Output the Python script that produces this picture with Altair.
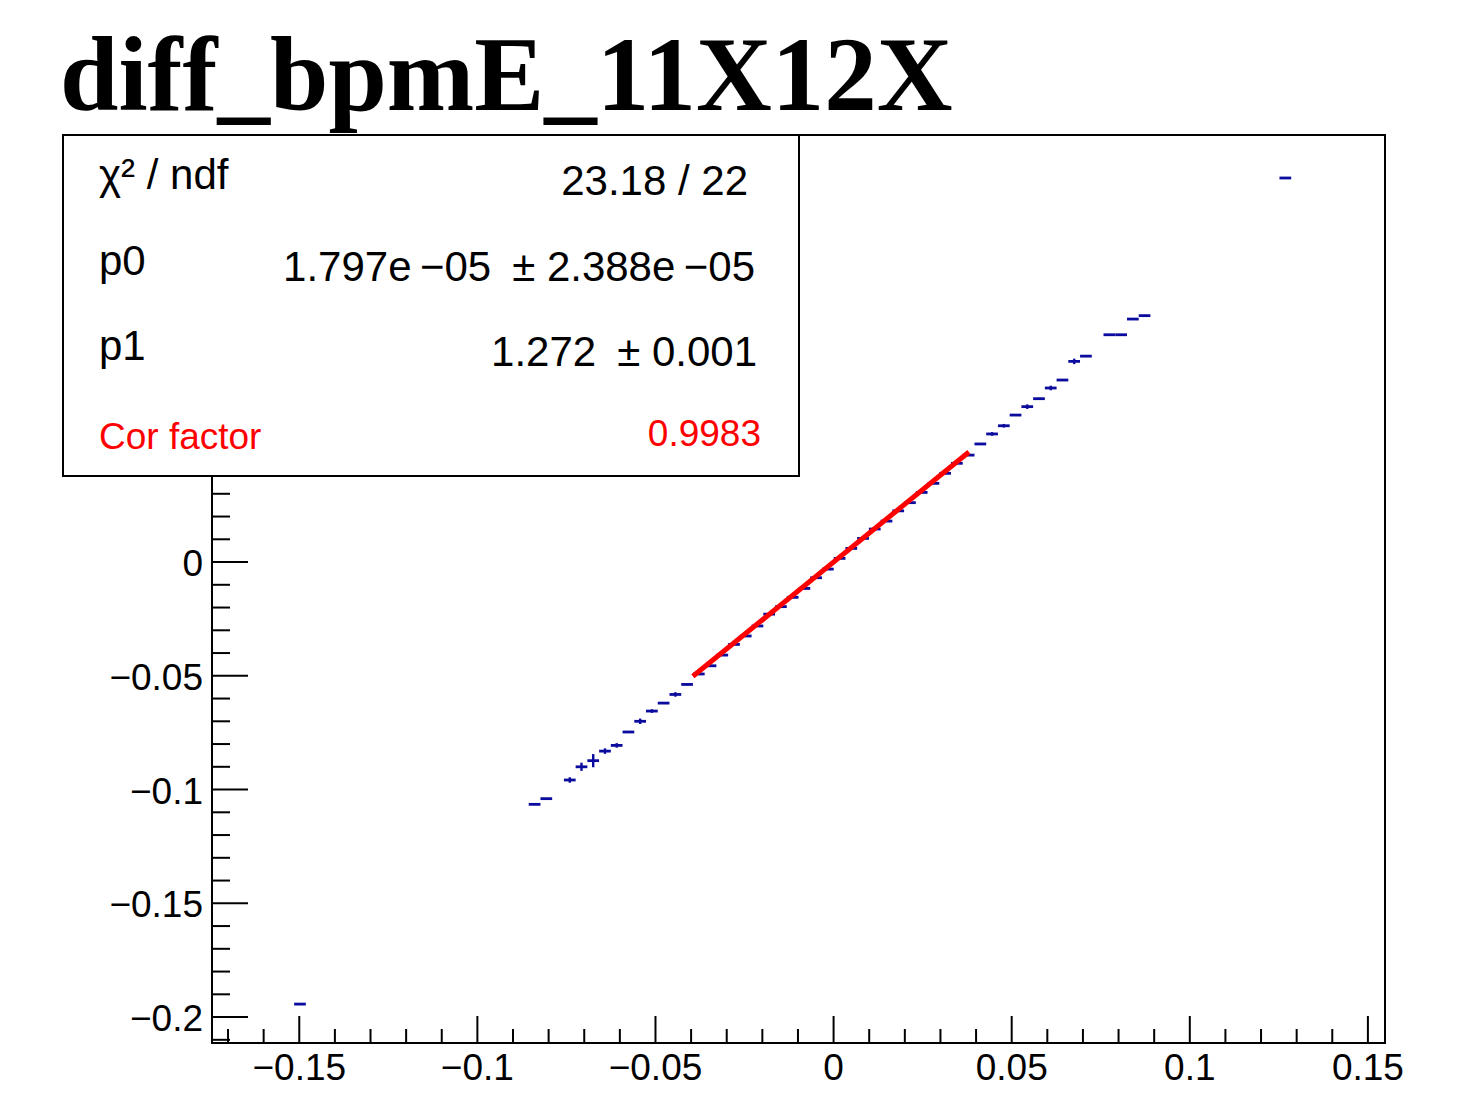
import altair as alt
import pandas as pd

# ---------------- data ----------------
title_text = "diff_bpmE_11X12X"

bin_x = [-0.14980, -0.08394, -0.08065, -0.07406, -0.07077, -0.06748, -0.06418,
         -0.06089, -0.05760, -0.05430, -0.05101, -0.04772, -0.04442, -0.04113,
         -0.03784, -0.03455, -0.03125, -0.02796, -0.02467, -0.02137, -0.01808,
         -0.01479, -0.01149, -0.00820, -0.00491, -0.00161, 0.00168, 0.00497,
         0.00827, 0.01156, 0.01485, 0.01815, 0.02144, 0.02473, 0.02803, 0.03132,
         0.03461, 0.03791, 0.04120, 0.04449, 0.04779, 0.05108, 0.05437, 0.05766,
         0.06096, 0.06425, 0.06754, 0.07084, 0.07742, 0.08072, 0.08401, 0.08730,
         0.12682]
bin_y = [-0.1943, -0.1065, -0.1040, -0.0958, -0.0900, -0.0873, -0.0831,
         -0.0806, -0.0747, -0.0700, -0.0655, -0.0620, -0.0582, -0.0538,
         -0.0492, -0.0456, -0.0409, -0.0362, -0.0325, -0.0281, -0.0229,
         -0.0196, -0.0155, -0.0116, -0.0069, -0.0031, 0.0016, 0.0060,
         0.0104, 0.0145, 0.0180, 0.0225, 0.0261, 0.0306, 0.0346, 0.0390,
         0.0434, 0.0470, 0.0519, 0.0563, 0.0599, 0.0646, 0.0683, 0.0718,
         0.0765, 0.0800, 0.0882, 0.0905, 0.0999, 0.0999, 0.1068, 0.1083,
         0.1688]
bin_err = [0.0003, 0.0003, 0.0003, 0.0012, 0.0018, 0.0029, 0.0012,
           0.0010, 0.0004, 0.0012, 0.0008, 0.0004, 0.0010, 0.0004,
           0.0004, 0.0004, 0.0004, 0.0004, 0.0004, 0.0004, 0.0004,
           0.0004, 0.0004, 0.0004, 0.0004, 0.0004, 0.0004, 0.0004,
           0.0004, 0.0004, 0.0004, 0.0004, 0.0004, 0.0004, 0.0004, 0.0004,
           0.0004, 0.0004, 0.0004, 0.0008, 0.0008, 0.0004, 0.0010, 0.0004,
           0.0010, 0.0004, 0.0012, 0.0004, 0.0003, 0.0003, 0.0004, 0.0004,
           0.0003]
bin_half_width = 0.001646

fit_p0 = 1.797e-05
fit_p1 = 1.272
fit_range = [-0.0395, 0.0380]

x_major = [-0.15, -0.1, -0.05, 0.0, 0.05, 0.1, 0.15]
x_major_labels = ["\u22120.15", "\u22120.1", "\u22120.05", "0", "0.05", "0.1", "0.15"]
x_minor = [-0.17, -0.16, -0.14, -0.13, -0.12, -0.11, -0.09, -0.08, -0.07, -0.06,
           -0.04, -0.03, -0.02, -0.01, 0.01, 0.02, 0.03, 0.04, 0.06, 0.07, 0.08,
           0.09, 0.11, 0.12, 0.13, 0.14]
y_major = [-0.2, -0.15, -0.1, -0.05, 0.0, 0.05, 0.1, 0.15]
# labels of 0.05 .. 0.15 are hidden behind the stats box in the reference
y_label_values = [-0.2, -0.15, -0.1, -0.05, 0.0]
y_major_labels = ["\u22120.2", "\u22120.15", "\u22120.1", "\u22120.05", "0"]
y_minor = [-0.21, -0.19, -0.18, -0.17, -0.16, -0.14, -0.13, -0.12, -0.11, -0.09,
           -0.08, -0.07, -0.06, -0.04, -0.03, -0.02, -0.01, 0.01, 0.02, 0.03, 0.04,
           0.06, 0.07, 0.08, 0.09, 0.11, 0.12, 0.13, 0.14, 0.16, 0.17, 0.18]

stats_labels = ["\u03c7\u00b2 / ndf", "p0", "p1", "Cor factor"]
stats_values = ["23.18 / 22",
                "1.797e\u2009\u221205\u2002\u00b1 2.388e\u2009\u221205",
                "1.272\u2002\u00b1 0.001",
                "0.9983"]
stats_colors = ["black", "black", "black", "#ff0000"]

# ---------------- layout ----------------
W, H = 1173, 908
xs = alt.Scale(domain=[-0.1745, 0.1548], nice=False, zero=False)
ys = alt.Scale(domain=[-0.2114, 0.1877], nice=False, zero=False)
SANS = "Liberation Sans"
BLUE = "#0b0b9e"

pts = pd.DataFrame({"x": bin_x, "y": bin_y, "e": bin_err})
base_pts = alt.Chart(pts).transform_calculate(
    lo=f"datum.x - {bin_half_width}", hi=f"datum.x + {bin_half_width}",
    ylo="datum.y - datum.e", yhi="datum.y + datum.e")

hbars = base_pts.mark_rule(color=BLUE, strokeWidth=2.8, strokeCap="butt").encode(
    x=alt.X("lo:Q", scale=xs, axis=None), x2="hi:Q",
    y=alt.Y("y:Q", scale=ys, axis=None))
vbars = base_pts.mark_rule(color=BLUE, strokeWidth=2.4, strokeCap="butt").encode(
    x=alt.X("x:Q", scale=xs, axis=None),
    y=alt.Y("ylo:Q", scale=ys, axis=None), y2="yhi:Q")

fit = alt.Chart(pd.DataFrame({"x": fit_range})).transform_calculate(
    y=f"{fit_p0} + {fit_p1} * datum.x"
).mark_line(color="#ff0000", strokeWidth=5).encode(
    x=alt.X("x:Q", scale=xs, axis=None), y=alt.Y("y:Q", scale=ys, axis=None))

# axis ticks (ROOT style, pointing inward)
xmaj = alt.Chart(pd.DataFrame({"v": x_major})).mark_rule(color="black", strokeWidth=2).encode(
    x=alt.X("v:Q", scale=xs, axis=None), y=alt.value(H), y2=alt.value(H - 27))
xmin = alt.Chart(pd.DataFrame({"v": x_minor})).mark_rule(color="black", strokeWidth=2).encode(
    x=alt.X("v:Q", scale=xs, axis=None), y=alt.value(H), y2=alt.value(H - 14))
ymaj = alt.Chart(pd.DataFrame({"v": y_major})).mark_rule(color="black", strokeWidth=2).encode(
    y=alt.Y("v:Q", scale=ys, axis=None), x=alt.value(0), x2=alt.value(36))
ymin = alt.Chart(pd.DataFrame({"v": y_minor})).mark_rule(color="black", strokeWidth=2).encode(
    y=alt.Y("v:Q", scale=ys, axis=None), x=alt.value(0), x2=alt.value(18))

xlab = alt.Chart(pd.DataFrame({"v": x_major, "t": x_major_labels})).mark_text(
    font=SANS, fontSize=37, baseline="middle", align="center", color="black"
).encode(x=alt.X("v:Q", scale=xs, axis=None), y=alt.value(H + 26), text="t:N")
ylab = alt.Chart(pd.DataFrame({"v": y_label_values, "t": y_major_labels})).mark_text(
    font=SANS, fontSize=37, baseline="middle", align="right", color="black", dy=3
).encode(y=alt.Y("v:Q", scale=ys, axis=None), x=alt.value(-9), text="t:N")

one = pd.DataFrame({"a": [0]})
box = alt.Chart(one).mark_rect(fill="white", stroke="black", strokeWidth=2).encode(
    x=alt.value(-149), x2=alt.value(587), y=alt.value(0), y2=alt.value(341))

title = alt.Chart(one).mark_text(
    font="Liberation Serif", fontWeight="bold", fontSize=105, align="left",
    baseline="alphabetic", color="black"
).encode(x=alt.value(-152), y=alt.value(-25), text=alt.value(title_text))

label_base = [54, 140, 225, 314]
value_base = [60, 146, 231, 311]
value_right = [536, 543, 545, 549]
stat_sizes = [42, 42, 42, 37]
stat_layers = []
for i in range(4):
    stat_layers.append(alt.Chart(one).mark_text(
        font=SANS, fontSize=stat_sizes[i], align="left", baseline="alphabetic",
        color=stats_colors[i]
    ).encode(x=alt.value(-113), y=alt.value(label_base[i]), text=alt.value(stats_labels[i])))
    stat_layers.append(alt.Chart(one).mark_text(
        font=SANS, fontSize=stat_sizes[i], align="right", baseline="alphabetic",
        color=stats_colors[i]
    ).encode(x=alt.value(value_right[i]), y=alt.value(value_base[i]), text=alt.value(stats_values[i])))

chart = alt.layer(
    xmin, xmaj, ymin, ymaj, hbars, vbars, fit, xlab, ylab, box, title, *stat_layers
).properties(
    width=W, height=H,
    autosize=alt.AutoSizeParams(type="none"),
    padding={"left": 204, "top": 127, "right": 50, "bottom": 44},
    background="white",
).configure_view(stroke="black", strokeWidth=2)

chart.save("out.html", embed_options={"renderer": "svg", "actions": False})
